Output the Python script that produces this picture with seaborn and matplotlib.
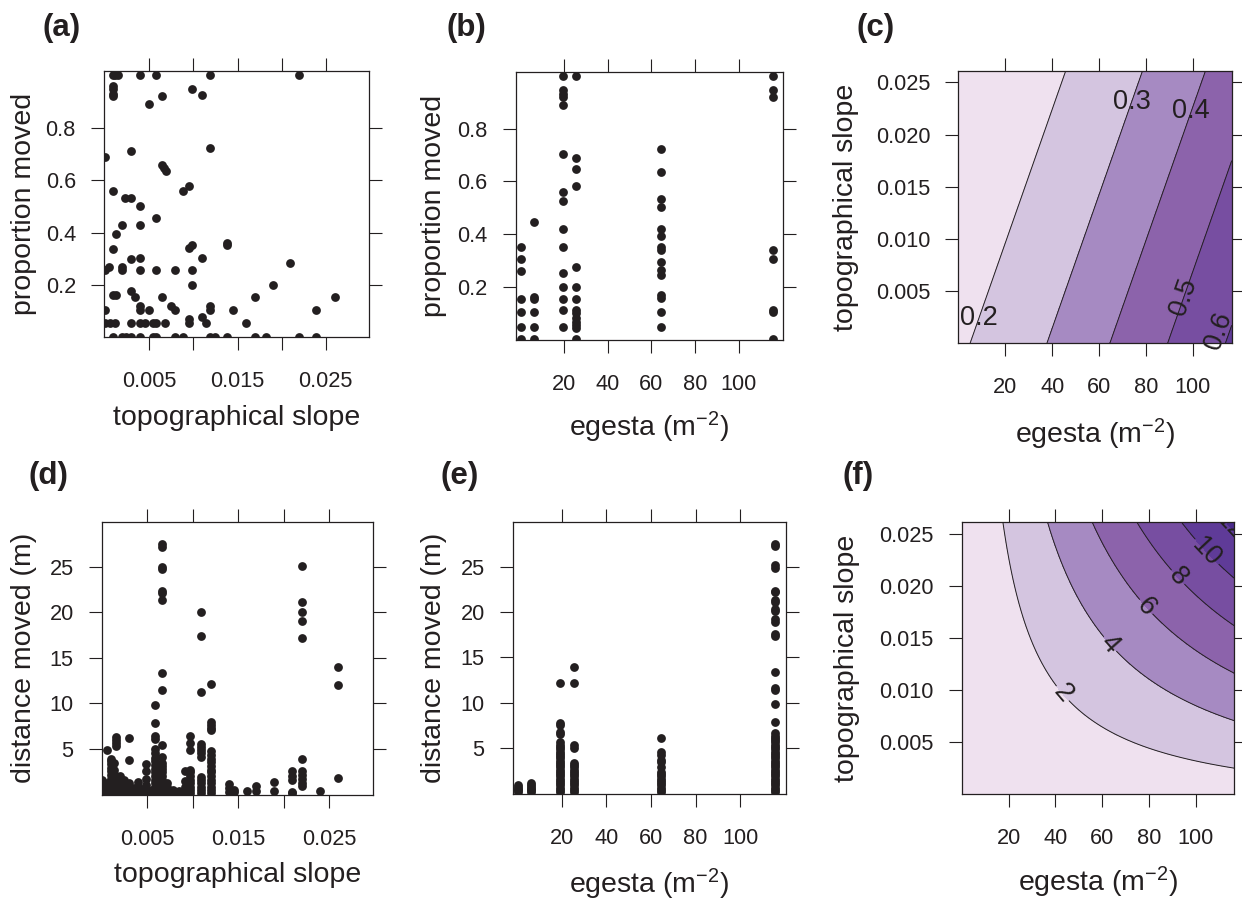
import numpy as np
import pandas as pd
import matplotlib
matplotlib.use("Agg")
import matplotlib.pyplot as plt
import seaborn as sns

# ------------------------------------------------------------------ data
# (a) proportion moved vs topographical slope
a_slope = [0.00088, 0.00115, 0.0014, 0.00398, 0.00579, 0.01192, 0.02194,
           0.00088, 0.00088, 0.00088, 0.00088,
           0.0050, 0.00644, 0.00988, 0.01093,
           0.01192, 0.0000, 0.00296,
           0.00644, 0.00666, 0.00693,
           0.00878, 0.0095, 0.00088,
           0.0022, 0.00288, 0.00398, 0.00579,
           0.0019, 0.00398, 0.00118, 0.00088,
           0.0095, 0.00988, 0.01381, 0.01385,
           0.0210,
           0.0000, 0.0004, 0.0019, 0.0019,
           0.00296, 0.00398, 0.01093,
           0.00398, 0.00579, 0.00787, 0.00988,
           0.00988, 0.01902, 0.01694, 0.02605,
           0.00088, 0.0012, 0.00288, 0.00334, 0.00644,
           0.00398, 0.00398, 0.0050, 0.00742, 0.00787,
           0.01192, 0.01192, 0.01449, 0.02394, 0.0000,
           0.0095, 0.0095, 0.01093, 0.01139, 0.01593,
           0.0000, 0.0005, 0.00107, 0.00296, 0.00398, 0.00447, 0.00542, 0.00579, 0.00681,
           0.00088, 0.0019, 0.00239, 0.00296, 0.00398, 0.00542, 0.00579, 0.00787,
           0.00878, 0.01192, 0.01241, 0.01381, 0.01694, 0.01827, 0.02194, 0.02394]
a_prop = [1.0, 1.0, 1.0, 1.0, 1.0, 1.0, 1.0,
          0.96, 0.95, 0.93, 0.92,
          0.89, 0.92, 0.95, 0.924,
          0.724, 0.69, 0.712,
          0.659, 0.645, 0.636,
          0.56, 0.579, 0.559,
          0.532, 0.532, 0.503, 0.455,
          0.427, 0.427, 0.393, 0.339,
          0.342, 0.352, 0.36, 0.352,
          0.282,
          0.257, 0.27, 0.27, 0.257,
          0.299, 0.304, 0.304,
          0.257, 0.257, 0.257, 0.257,
          0.2, 0.2, 0.152, 0.152,
          0.162, 0.162, 0.175, 0.153, 0.152,
          0.118, 0.105, 0.103, 0.118, 0.103,
          0.118, 0.105, 0.103, 0.103, 0.103,
          0.07, 0.055, 0.076, 0.055, 0.055,
          0.055, 0.055, 0.055, 0.055, 0.055, 0.055, 0.055, 0.055, 0.055,
          0.0, 0.0, 0.0, 0.0, 0.0, 0.0, 0.0, 0.0,
          0.0, 0.0, 0.0, 0.0, 0.0, 0.0, 0.0, 0.0]

# (b) proportion moved vs egesta  (one list of values per egesta level)
b_egesta = [0.3, 6.0, 19.2, 25.3, 64.5, 115.8]
b_prop = [
    [0.352, 0.304, 0.26, 0.152, 0.103, 0.049, 0.0],
    [0.446, 0.162, 0.152, 0.103, 0.049, 0.0],
    [1.0, 0.948, 0.933, 0.92, 0.891, 0.705, 0.56, 0.525, 0.421, 0.352, 0.251,
     0.2, 0.152, 0.112, 0.049],
    [1.0, 0.69, 0.648, 0.582, 0.276, 0.2, 0.152, 0.112, 0.1, 0.08, 0.067,
     0.055, 0.042, 0.0],
    [0.724, 0.635, 0.532, 0.503, 0.421, 0.393, 0.352, 0.339, 0.295, 0.263,
     0.244, 0.168, 0.158, 0.103, 0.049],
    [1.0, 0.948, 0.92, 0.339, 0.304, 0.112, 0.103, 0.0],
]

# (d) distance moved vs topographical slope (one list per slope value)
d_slope = [0.0000, 0.0006, 0.0010, 0.0013, 0.0016, 0.0020, 0.0024, 0.0030,
           0.0035, 0.0040, 0.0045, 0.0049, 0.0055, 0.0059, 0.0066, 0.0072,
           0.0078, 0.0085, 0.0092, 0.0097, 0.0109, 0.0120, 0.0140, 0.0145,
           0.0160, 0.0170, 0.0190, 0.0209, 0.0220, 0.0240, 0.0260]
d_dist = [
    [0.1, 0.3, 0.6, 0.9, 1.2, 1.5],
    [0.1, 0.4, 0.8, 1.2, 4.85],
    [0.1, 0.3, 0.6, 0.9, 1.3, 1.7, 2.1, 2.5, 2.9, 3.3, 3.6, 3.9],
    [0.2, 0.5, 0.9, 1.4, 2.0, 2.6, 3.4],
    [0.1, 0.4, 0.8, 1.2, 1.6, 2.0, 5.3, 5.6, 6.0, 6.3],
    [0.1, 0.4, 0.8, 1.2, 1.6, 2.0],
    [0.1, 0.4, 0.8, 1.2, 1.5],
    [0.1, 0.4, 0.8, 1.2, 3.8, 6.2],
    [0.1, 0.4, 0.7],
    [0.1, 0.4, 0.8, 1.3],
    [0.1, 0.3, 0.6],
    [0.2, 0.6, 1.0, 1.7, 2.5, 3.3],
    [0.1, 0.4],
    [0.1, 0.4, 0.8, 1.2, 1.6, 2.0, 2.4, 2.8, 3.2, 3.6, 4.0, 4.5, 5.0, 6.1,
     6.4, 7.8, 9.8],
    [0.1, 0.4, 0.8, 1.2, 1.6, 2.0, 2.4, 2.8, 3.1, 3.4, 4.1, 5.4, 11.45, 13.3,
     21.3, 22.1, 22.3, 24.7, 25.0, 27.2, 27.5],
    [0.1, 0.4, 0.8, 1.2],
    [0.1, 0.4],
    [0.1, 0.3],
    [0.1, 0.4, 0.8, 1.4, 2.5],
    [0.1, 0.4, 0.8, 1.2, 1.6, 2.0, 2.4, 2.7, 4.85, 5.6, 6.4],
    [0.1, 0.4, 0.8, 1.2, 1.6, 1.9, 4.1, 4.5, 4.85, 5.2, 5.5, 11.2, 17.4, 20.0],
    [0.1, 0.4, 0.8, 1.2, 1.6, 2.0, 2.4, 2.7, 3.1, 3.5, 3.9, 4.3, 4.7, 7.0,
     7.3, 7.6, 7.9, 12.1],
    [0.2, 0.7, 1.1],
    [0.2, 0.5],
    [0.3],
    [0.3, 0.85],
    [0.3, 1.3],
    [0.1, 0.2, 1.5, 2.0, 2.5],
    [0.85, 1.2, 1.7, 2.1, 2.5, 3.9, 17.2, 19.0, 20.0, 21.1, 25.1],
    [0.3],
    [1.75, 12.0, 14.0],
]

# (e) distance moved vs egesta (one list per egesta level)
e_egesta = [0.3, 6.0, 19.2, 25.3, 64.5, 115.8]
e_dist = [
    [0.1, 0.3, 0.5, 0.7, 0.9],
    [0.1, 0.3, 0.5, 0.7, 0.9, 1.1],
    [0.1, 0.35, 0.6, 0.85, 1.1, 1.35, 1.6, 1.85, 2.1, 2.35, 2.6, 2.85, 3.1,
     3.35, 3.6, 3.85, 4.1, 4.35, 4.6, 4.85, 5.1, 5.35, 5.6, 6.5, 6.8, 7.5,
     7.8, 12.2],
    [0.1, 0.35, 0.6, 0.85, 1.1, 1.35, 1.6, 1.85, 2.1, 2.35, 2.6, 2.85, 3.1,
     3.35, 5.0, 5.3, 12.2, 14.0],
    [0.1, 0.35, 0.6, 0.85, 1.1, 1.35, 1.6, 1.85, 2.1, 2.35, 2.9, 3.4, 3.7,
     4.2, 4.5, 6.1],
    [0.1, 0.35, 0.6, 0.85, 1.1, 1.35, 1.6, 1.85, 2.1, 2.35, 2.6, 2.85, 3.1,
     3.35, 3.6, 3.85, 4.1, 4.35, 4.6, 4.85, 5.1, 5.35, 5.6, 5.85, 6.1, 6.35,
     6.6, 7.9, 9.9, 11.4, 11.6, 13.4, 17.4, 17.6, 18.9, 19.2, 20.1, 20.4,
     21.1, 21.4, 22.2, 22.4, 24.9, 25.2, 27.3, 27.5],
]

# (c) fitted surface: logit(proportion) = c_int + c_eg*egesta + c_sl*slope
c_int, c_eg, c_sl = -1.469, 0.01647, -25.7
c_levels = [0.0, 0.2, 0.3, 0.4, 0.5, 0.6, 1.0]
c_lines = [0.2, 0.3, 0.4, 0.5, 0.6]

# (f) fitted surface: distance = f_int + f_eg*egesta + f_sl*slope + f_ix*egesta*slope
f_int, f_eg, f_sl, f_ix = 0.1546, 0.0065, 0.0, 3.768
f_levels = [0, 2, 4, 6, 8, 10, 12, 20]
f_lines = [2, 4, 6, 8, 10, 12]

fill_colors = ["#EFE1EF", "#D4C5E0", "#A68AC2", "#8C63AB", "#774EA1",
               "#5F3B98", "#4A2A8B"]

slope_ticks = [0.005, 0.010, 0.015, 0.020, 0.025]
slope_ticklabels_scatter = ["0.005", "", "0.015", "", "0.025"]
slope_ticklabels_contour = ["0.005", "0.010", "0.015", "0.020", "0.025"]
egesta_ticks = [20, 40, 60, 80, 100]
prop_ticks = [0.2, 0.4, 0.6, 0.8]
dist_ticks = [5, 10, 15, 20, 25]

# ------------------------------------------------------------------ style
sns.set_theme(style="white")
plt.rcParams["font.family"] = ["Liberation Sans", "DejaVu Sans"]
plt.rcParams["mathtext.fontset"] = "custom"
plt.rcParams["mathtext.rm"] = "Liberation Sans"
plt.rcParams["mathtext.it"] = "Liberation Sans:italic"
plt.rcParams["mathtext.bf"] = "Liberation Sans:bold"

INK = "#231F20"
W, H = 1242, 901
fig = plt.figure(figsize=(W / 100, H / 100), dpi=100)

TICK_FS = 15.7
LAB_FS = 20.5
CL_FS = 19.5
MS = 40


def add_ax(l, r, t, b):
    return fig.add_axes([l / W, 1 - b / H, (r - l) / W, (b - t) / H])


def style_ax(ax):
    for sp in ax.spines.values():
        sp.set_color(INK)
        sp.set_linewidth(0.9)
    ax.tick_params(which="major", direction="out", length=9.4, width=0.8,
                   colors=INK, top=True, right=True, bottom=True, left=True,
                   labeltop=False, labelright=False, labelsize=TICK_FS)
    ax.tick_params(axis="x", pad=15.0)
    ax.tick_params(axis="y", pad=10.8)
    ax.grid(False)


def set_labels(ax, xl, yl, xb, yc):
    ax.set_xlabel(xl, fontsize=LAB_FS, color=INK)
    ax.xaxis.label.set_va("baseline")
    ax.xaxis.set_label_coords(0.5, xb)
    ax.set_ylabel(yl, fontsize=LAB_FS, color=INK)
    ax.yaxis.label.set_va("center")
    ax.yaxis.label.set_ha("center")
    ax.yaxis.set_label_coords(yc, 0.5)


EG_LABEL = r"egesta (m$^{\mathregular{-2}}$)"

# ---- (a)
ax = add_ax(104, 369, 71, 337.3)
df_a = pd.DataFrame({"slope": a_slope, "prop": a_prop})
sns.scatterplot(data=df_a, x="slope", y="prop", ax=ax, color=INK, s=MS,
                linewidth=0, edgecolor=None)
ax.set_xlim(-0.00014, 0.0299)
ax.set_ylim(0.0, 1.017)
ax.set_xticks(slope_ticks, slope_ticklabels_scatter)
ax.set_yticks(prop_ticks, ["0.2", "0.4", "0.6", "0.8"])
style_ax(ax)
set_labels(ax, "topographical slope", "proportion moved", -0.329, -0.302)

# ---- (b)
ax = add_ax(515.7, 782.7, 71.5, 340)
df_b = pd.DataFrame([(e, v) for e, vals in zip(b_egesta, b_prop) for v in vals],
                    columns=["egesta", "prop"])
sns.scatterplot(data=df_b, x="egesta", y="prop", ax=ax, color=INK, s=MS,
                linewidth=0, edgecolor=None)
ax.set_xlim(-2.3, 120.2)
ax.set_ylim(-0.002, 1.017)
ax.set_xticks(egesta_ticks, [str(t) for t in egesta_ticks])
ax.set_yticks(prop_ticks, ["0.2", "0.4", "0.6", "0.8"])
style_ax(ax)
set_labels(ax, EG_LABEL, "proportion moved", -0.36, -0.306)

# ---- (c)
ax = add_ax(958.3, 1231.7, 71, 343.3)
eg_grid = np.linspace(0, 116.5, 240)
sl_grid = np.linspace(0, 0.0261, 240)
EG, SL = np.meshgrid(eg_grid, sl_grid)
Zc = 1.0 / (1.0 + np.exp(-(c_int + c_eg * EG + c_sl * SL)))
ax.contourf(EG, SL, Zc, levels=c_levels, colors=fill_colors[:6])
cs = ax.contour(EG, SL, Zc, levels=c_lines, colors=INK, linewidths=0.7)
txt = ax.clabel(cs, levels=c_lines, inline=False, fontsize=CL_FS, colors=INK,
                fmt=lambda v: f"{v:.1f}",
                manual=[(7.6, 0.0025), (71.7, 0.0233), (97.3, 0.0224),
                        (93.0, 0.0047), (114.5, 0.0008)])
for t in txt:
    if t.get_text() in ("0.2", "0.3", "0.4"):
        t.set_rotation(0)
    if t.get_text() == "0.6":
        t.set_position((111.0, 0.0012))
    t.set_clip_on(False)
ax.set_xlim(0, 116.5)
ax.set_ylim(0, 0.0261)
ax.set_xticks(egesta_ticks, [str(t) for t in egesta_ticks])
ax.set_yticks(slope_ticks, slope_ticklabels_contour)
style_ax(ax)
set_labels(ax, EG_LABEL, "topographical slope", -0.366, -0.411)

# ---- (d)
ax = add_ax(101.7, 372.7, 521.7, 795)
df_d = pd.DataFrame([(s, v) for s, vals in zip(d_slope, d_dist) for v in vals],
                    columns=["slope", "dist"])
sns.scatterplot(data=df_d, x="slope", y="dist", ax=ax, color=INK, s=MS,
                linewidth=0, edgecolor=None)
ax.set_xlim(0.0, 0.0298)
ax.set_ylim(-0.1, 29.95)
ax.set_xticks(slope_ticks, slope_ticklabels_scatter)
ax.set_yticks(dist_ticks, [str(t) for t in dist_ticks])
style_ax(ax)
set_labels(ax, "topographical slope", "distance moved (m)", -0.318, -0.287)

# ---- (e)
ax = add_ax(512.7, 785.7, 522.3, 794)
df_e = pd.DataFrame([(e, v) for e, vals in zip(e_egesta, e_dist) for v in vals],
                    columns=["egesta", "dist"])
sns.scatterplot(data=df_e, x="egesta", y="dist", ax=ax, color=INK, s=MS,
                linewidth=0, edgecolor=None)
ax.set_xlim(-2.0, 120.4)
ax.set_ylim(-0.1, 29.95)
ax.set_xticks(egesta_ticks, [str(t) for t in egesta_ticks])
ax.set_yticks(dist_ticks, [str(t) for t in dist_ticks])
style_ax(ax)
set_labels(ax, EG_LABEL, "distance moved (m)", -0.364, -0.288)

# ---- (f)
ax = add_ax(961.7, 1234.3, 522.3, 794)
eg_grid_f = np.linspace(0, 116.4, 240)
EGf, SLf = np.meshgrid(eg_grid_f, sl_grid)
Zf = f_int + f_eg * EGf + f_sl * SLf + f_ix * EGf * SLf
ax.contourf(EGf, SLf, Zf, levels=f_levels, colors=fill_colors)
cs = ax.contour(EGf, SLf, Zf, levels=f_lines, colors=INK, linewidths=0.7)
txt = ax.clabel(cs, levels=f_lines, inline=True, inline_spacing=2,
                fontsize=CL_FS, colors=INK, fmt=lambda v: f"{v:g}",
                manual=[(45.4, 0.0101), (65.3, 0.0148), (80.3, 0.0183),
                        (94.6, 0.0213), (106.7, 0.0237), (115.8, 0.0259)])
for t in txt:
    t.set_clip_on(True)
ax.set_xlim(0, 116.4)
ax.set_ylim(0, 0.0261)
ax.set_xticks(egesta_ticks, [str(t) for t in egesta_ticks])
ax.set_yticks(slope_ticks, slope_ticklabels_contour)
style_ax(ax)
set_labels(ax, EG_LABEL, "topographical slope", -0.357, -0.421)

# ---- panel letters
for lbl, x, y in [("(a)", 42, 28), ("(b)", 447, 28), ("(c)", 857, 28),
                  ("(d)", 28, 476), ("(e)", 440, 476), ("(f)", 843, 476)]:
    fig.text(x / W, 1 - y / H, lbl, ha="left", va="center", fontsize=22.5,
             fontweight="bold", color=INK)

fig.savefig("out.png", dpi=100)
